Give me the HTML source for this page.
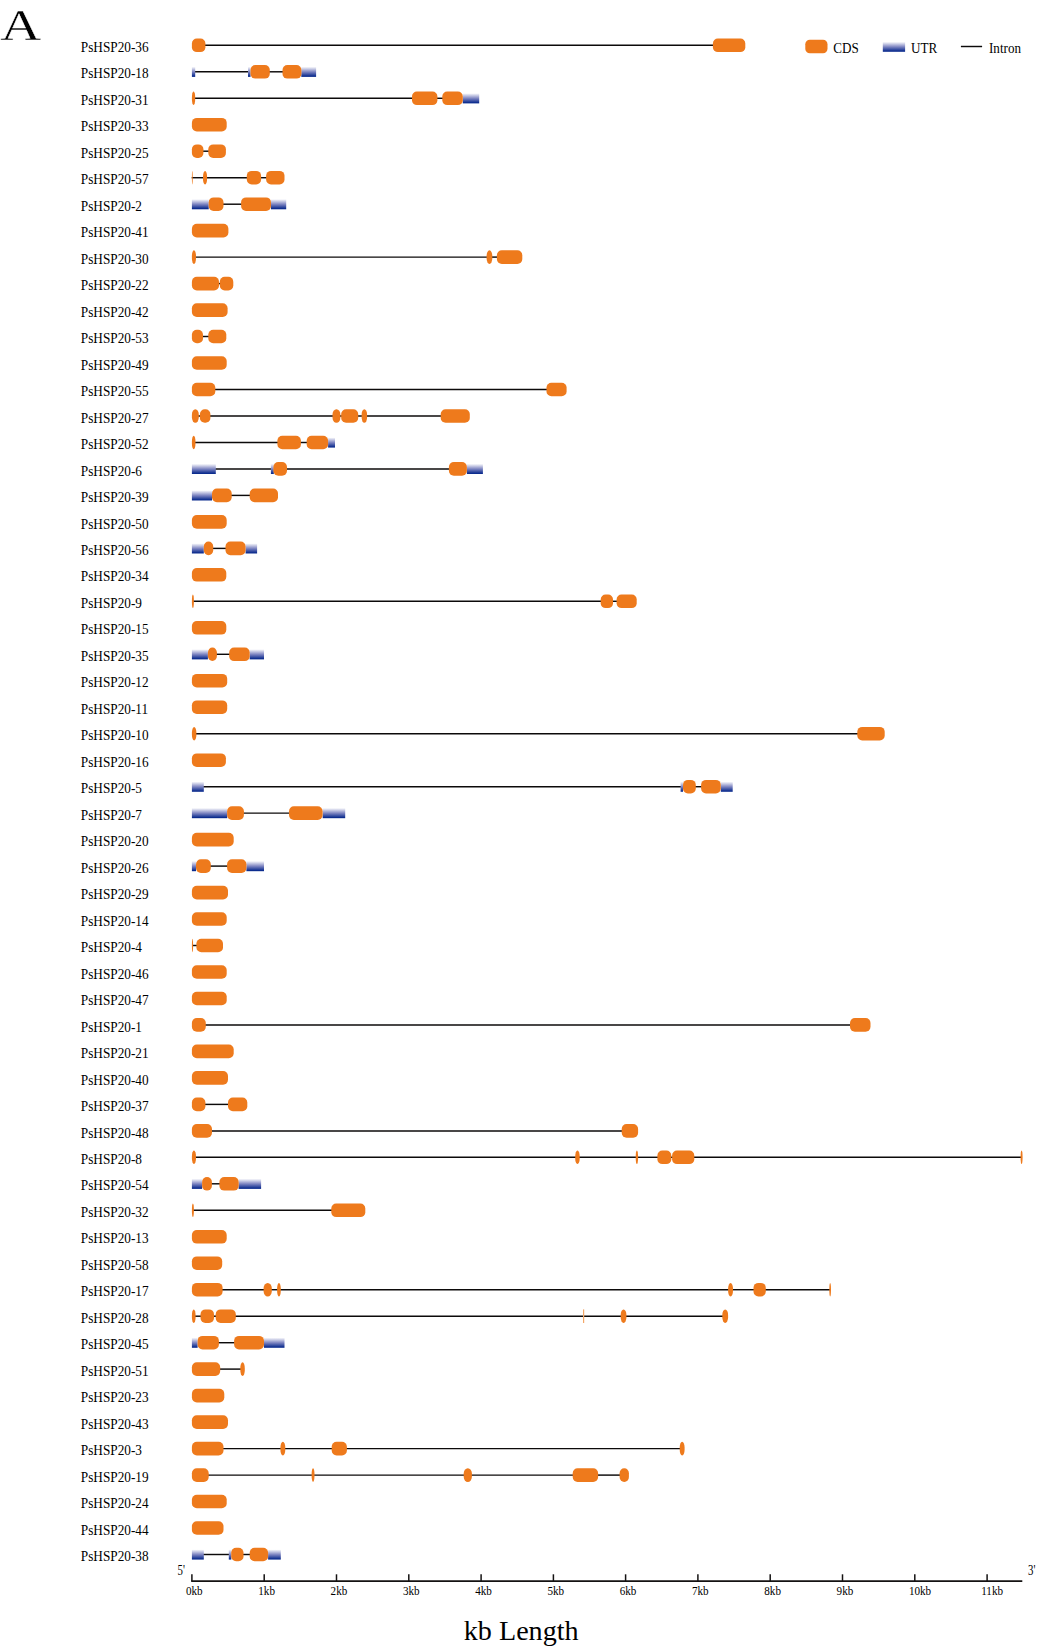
<!DOCTYPE html>
<html><head><meta charset="utf-8"><title>Gene structure</title>
<style>
html,body{margin:0;padding:0;background:#fff}
svg{display:block}
text{font-family:"Liberation Serif",serif;fill:#000}
</style></head><body>
<svg width="1049" height="1649" viewBox="0 0 1049 1649">
<defs><linearGradient id="u" x1="0" y1="0" x2="0" y2="1"><stop offset="0" stop-color="#ffffff"/><stop offset="0.5" stop-color="#7f86c2"/><stop offset="0.93" stop-color="#0c2c8e"/><stop offset="1" stop-color="#0c2c8e"/></linearGradient></defs>
<rect width="1049" height="1649" fill="#fff"/>
<text transform="translate(0.3,39.8) scale(1.29,1)" font-size="44" stroke="#fff" stroke-width="0.38">A</text>
<text transform="translate(80.8,51.9) scale(0.85,1)" font-size="15.6">PsHSP20-36</text>
<line x1="204.4" y1="45.3" x2="713.9" y2="45.3" stroke="#0c0a0a" stroke-width="1.45"/>
<rect x="191.9" y="38.5" width="13.5" height="13.6" rx="4.9" ry="4.9" fill="#ee7a1c"/>
<rect x="712.9" y="38.5" width="32.4" height="13.6" rx="4.9" ry="4.9" fill="#ee7a1c"/>
<text transform="translate(80.8,78.4) scale(0.85,1)" font-size="15.6">PsHSP20-18</text>
<line x1="194.2" y1="71.8" x2="249.0" y2="71.8" stroke="#0c0a0a" stroke-width="1.45"/>
<line x1="268.8" y1="71.8" x2="283.5" y2="71.8" stroke="#0c0a0a" stroke-width="1.45"/>
<rect x="191.9" y="66.7" width="3.3" height="10.2" fill="url(#u)"/>
<rect x="248.0" y="66.7" width="2.5" height="10.2" fill="url(#u)"/>
<rect x="301.3" y="66.7" width="14.8" height="10.2" fill="url(#u)"/>
<rect x="250.5" y="65.0" width="19.3" height="13.6" rx="4.9" ry="4.9" fill="#ee7a1c"/>
<rect x="282.5" y="65.0" width="18.9" height="13.6" rx="4.9" ry="4.9" fill="#ee7a1c"/>
<text transform="translate(80.8,104.9) scale(0.85,1)" font-size="15.6">PsHSP20-31</text>
<line x1="194.2" y1="98.3" x2="413.0" y2="98.3" stroke="#0c0a0a" stroke-width="1.45"/>
<line x1="436.4" y1="98.3" x2="443.3" y2="98.3" stroke="#0c0a0a" stroke-width="1.45"/>
<rect x="462.8" y="93.2" width="16.4" height="10.2" fill="url(#u)"/>
<rect x="191.9" y="91.5" width="3.3" height="13.6" rx="1.6" ry="6.2" fill="#ee7a1c"/>
<rect x="412.0" y="91.5" width="25.4" height="13.6" rx="4.9" ry="4.9" fill="#ee7a1c"/>
<rect x="442.3" y="91.5" width="20.5" height="13.6" rx="4.9" ry="4.9" fill="#ee7a1c"/>
<text transform="translate(80.8,131.3) scale(0.85,1)" font-size="15.6">PsHSP20-33</text>
<rect x="191.9" y="117.9" width="34.8" height="13.6" rx="4.9" ry="4.9" fill="#ee7a1c"/>
<text transform="translate(80.8,157.8) scale(0.85,1)" font-size="15.6">PsHSP20-25</text>
<line x1="202.4" y1="151.2" x2="209.3" y2="151.2" stroke="#0c0a0a" stroke-width="1.45"/>
<rect x="191.9" y="144.4" width="11.5" height="13.6" rx="4.9" ry="4.9" fill="#ee7a1c"/>
<rect x="208.3" y="144.4" width="17.6" height="13.6" rx="4.9" ry="4.9" fill="#ee7a1c"/>
<text transform="translate(80.8,184.3) scale(0.85,1)" font-size="15.6">PsHSP20-57</text>
<line x1="191.7" y1="177.7" x2="204.0" y2="177.7" stroke="#0c0a0a" stroke-width="1.45"/>
<line x1="206.1" y1="177.7" x2="247.8" y2="177.7" stroke="#0c0a0a" stroke-width="1.45"/>
<line x1="260.2" y1="177.7" x2="267.1" y2="177.7" stroke="#0c0a0a" stroke-width="1.45"/>
<rect x="191.9" y="170.9" width="0.8" height="13.6" rx="0.4" ry="6.6" fill="#ee7a1c"/>
<rect x="203.0" y="170.9" width="4.1" height="13.6" rx="2.0" ry="6.0" fill="#ee7a1c"/>
<rect x="246.8" y="170.9" width="14.3" height="13.6" rx="4.9" ry="4.9" fill="#ee7a1c"/>
<rect x="266.1" y="170.9" width="18.4" height="13.6" rx="4.9" ry="4.9" fill="#ee7a1c"/>
<text transform="translate(80.8,210.8) scale(0.85,1)" font-size="15.6">PsHSP20-2</text>
<line x1="222.5" y1="204.2" x2="242.1" y2="204.2" stroke="#0c0a0a" stroke-width="1.45"/>
<rect x="191.9" y="199.1" width="16.8" height="10.2" fill="url(#u)"/>
<rect x="271.0" y="199.1" width="15.2" height="10.2" fill="url(#u)"/>
<rect x="208.7" y="197.4" width="14.8" height="13.6" rx="4.9" ry="4.9" fill="#ee7a1c"/>
<rect x="241.1" y="197.4" width="29.9" height="13.6" rx="4.9" ry="4.9" fill="#ee7a1c"/>
<text transform="translate(80.8,237.2) scale(0.85,1)" font-size="15.6">PsHSP20-41</text>
<rect x="191.9" y="223.8" width="36.5" height="13.6" rx="4.9" ry="4.9" fill="#ee7a1c"/>
<text transform="translate(80.8,263.7) scale(0.85,1)" font-size="15.6">PsHSP20-30</text>
<line x1="195.0" y1="257.1" x2="487.6" y2="257.1" stroke="#0c0a0a" stroke-width="1.45"/>
<line x1="491.4" y1="257.1" x2="497.9" y2="257.1" stroke="#0c0a0a" stroke-width="1.45"/>
<rect x="191.9" y="250.3" width="4.1" height="13.6" rx="2.0" ry="6.0" fill="#ee7a1c"/>
<rect x="486.6" y="250.3" width="5.7" height="13.6" rx="2.9" ry="5.7" fill="#ee7a1c"/>
<rect x="496.9" y="250.3" width="25.4" height="13.6" rx="4.9" ry="4.9" fill="#ee7a1c"/>
<text transform="translate(80.8,290.2) scale(0.85,1)" font-size="15.6">PsHSP20-22</text>
<line x1="217.9" y1="283.6" x2="220.8" y2="283.6" stroke="#0c0a0a" stroke-width="1.45"/>
<rect x="191.9" y="276.8" width="27.1" height="13.6" rx="4.9" ry="4.9" fill="#ee7a1c"/>
<rect x="219.8" y="276.8" width="13.5" height="13.6" rx="4.9" ry="4.9" fill="#ee7a1c"/>
<text transform="translate(80.8,316.7) scale(0.85,1)" font-size="15.6">PsHSP20-42</text>
<rect x="191.9" y="303.3" width="35.7" height="13.6" rx="4.9" ry="4.9" fill="#ee7a1c"/>
<text transform="translate(80.8,343.1) scale(0.85,1)" font-size="15.6">PsHSP20-53</text>
<line x1="202.0" y1="336.5" x2="209.3" y2="336.5" stroke="#0c0a0a" stroke-width="1.45"/>
<rect x="191.9" y="329.7" width="11.1" height="13.6" rx="4.9" ry="4.9" fill="#ee7a1c"/>
<rect x="208.3" y="329.7" width="18.0" height="13.6" rx="4.9" ry="4.9" fill="#ee7a1c"/>
<text transform="translate(80.8,369.6) scale(0.85,1)" font-size="15.6">PsHSP20-49</text>
<rect x="191.9" y="356.2" width="34.8" height="13.6" rx="4.9" ry="4.9" fill="#ee7a1c"/>
<text transform="translate(80.8,396.1) scale(0.85,1)" font-size="15.6">PsHSP20-55</text>
<line x1="214.3" y1="389.5" x2="547.5" y2="389.5" stroke="#0c0a0a" stroke-width="1.45"/>
<rect x="191.9" y="382.7" width="23.4" height="13.6" rx="4.9" ry="4.9" fill="#ee7a1c"/>
<rect x="546.5" y="382.7" width="20.1" height="13.6" rx="4.9" ry="4.9" fill="#ee7a1c"/>
<text transform="translate(80.8,422.6) scale(0.85,1)" font-size="15.6">PsHSP20-27</text>
<line x1="197.8" y1="416.0" x2="200.9" y2="416.0" stroke="#0c0a0a" stroke-width="1.45"/>
<line x1="209.4" y1="416.0" x2="333.5" y2="416.0" stroke="#0c0a0a" stroke-width="1.45"/>
<line x1="339.4" y1="416.0" x2="342.2" y2="416.0" stroke="#0c0a0a" stroke-width="1.45"/>
<line x1="357.2" y1="416.0" x2="362.6" y2="416.0" stroke="#0c0a0a" stroke-width="1.45"/>
<line x1="366.1" y1="416.0" x2="441.7" y2="416.0" stroke="#0c0a0a" stroke-width="1.45"/>
<rect x="191.9" y="409.2" width="6.9" height="13.6" rx="3.5" ry="5.5" fill="#ee7a1c"/>
<rect x="199.9" y="409.2" width="10.5" height="13.6" rx="4.9" ry="4.9" fill="#ee7a1c"/>
<rect x="332.5" y="409.2" width="7.9" height="13.6" rx="3.9" ry="5.3" fill="#ee7a1c"/>
<rect x="341.2" y="409.2" width="17.0" height="13.6" rx="4.9" ry="4.9" fill="#ee7a1c"/>
<rect x="361.6" y="409.2" width="5.5" height="13.6" rx="2.8" ry="5.7" fill="#ee7a1c"/>
<rect x="440.7" y="409.2" width="29.1" height="13.6" rx="4.9" ry="4.9" fill="#ee7a1c"/>
<text transform="translate(80.8,449.1) scale(0.85,1)" font-size="15.6">PsHSP20-52</text>
<line x1="194.5" y1="442.5" x2="278.4" y2="442.5" stroke="#0c0a0a" stroke-width="1.45"/>
<line x1="299.9" y1="442.5" x2="307.7" y2="442.5" stroke="#0c0a0a" stroke-width="1.45"/>
<rect x="328.1" y="437.4" width="6.9" height="10.2" fill="url(#u)"/>
<rect x="191.9" y="435.7" width="3.6" height="13.6" rx="1.8" ry="6.1" fill="#ee7a1c"/>
<rect x="277.4" y="435.7" width="23.5" height="13.6" rx="4.9" ry="4.9" fill="#ee7a1c"/>
<rect x="306.7" y="435.7" width="21.4" height="13.6" rx="4.9" ry="4.9" fill="#ee7a1c"/>
<text transform="translate(80.8,475.5) scale(0.85,1)" font-size="15.6">PsHSP20-6</text>
<line x1="214.8" y1="468.9" x2="271.9" y2="468.9" stroke="#0c0a0a" stroke-width="1.45"/>
<line x1="286.0" y1="468.9" x2="449.9" y2="468.9" stroke="#0c0a0a" stroke-width="1.45"/>
<rect x="191.9" y="463.8" width="23.9" height="10.2" fill="url(#u)"/>
<rect x="270.9" y="463.8" width="2.9" height="10.2" fill="url(#u)"/>
<rect x="466.9" y="463.8" width="16.0" height="10.2" fill="url(#u)"/>
<rect x="273.4" y="462.1" width="13.6" height="13.6" rx="4.9" ry="4.9" fill="#ee7a1c"/>
<rect x="448.9" y="462.1" width="18.0" height="13.6" rx="4.9" ry="4.9" fill="#ee7a1c"/>
<text transform="translate(80.8,502.0) scale(0.85,1)" font-size="15.6">PsHSP20-39</text>
<line x1="230.6" y1="495.4" x2="250.7" y2="495.4" stroke="#0c0a0a" stroke-width="1.45"/>
<rect x="191.9" y="490.3" width="20.1" height="10.2" fill="url(#u)"/>
<rect x="212.0" y="488.6" width="19.7" height="13.6" rx="4.9" ry="4.9" fill="#ee7a1c"/>
<rect x="249.7" y="488.6" width="28.3" height="13.6" rx="4.9" ry="4.9" fill="#ee7a1c"/>
<text transform="translate(80.8,528.5) scale(0.85,1)" font-size="15.6">PsHSP20-50</text>
<rect x="191.9" y="515.1" width="34.8" height="13.6" rx="4.9" ry="4.9" fill="#ee7a1c"/>
<text transform="translate(80.8,555.0) scale(0.85,1)" font-size="15.6">PsHSP20-56</text>
<line x1="212.2" y1="548.4" x2="226.5" y2="548.4" stroke="#0c0a0a" stroke-width="1.45"/>
<rect x="191.9" y="543.3" width="11.9" height="10.2" fill="url(#u)"/>
<rect x="245.6" y="543.3" width="11.5" height="10.2" fill="url(#u)"/>
<rect x="203.8" y="541.6" width="9.4" height="13.6" rx="4.7" ry="5.0" fill="#ee7a1c"/>
<rect x="225.5" y="541.6" width="20.1" height="13.6" rx="4.9" ry="4.9" fill="#ee7a1c"/>
<text transform="translate(80.8,581.4) scale(0.85,1)" font-size="15.6">PsHSP20-34</text>
<rect x="191.9" y="568.0" width="34.4" height="13.6" rx="4.9" ry="4.9" fill="#ee7a1c"/>
<text transform="translate(80.8,607.9) scale(0.85,1)" font-size="15.6">PsHSP20-9</text>
<line x1="192.9" y1="601.3" x2="601.7" y2="601.3" stroke="#0c0a0a" stroke-width="1.45"/>
<line x1="612.0" y1="601.3" x2="617.6" y2="601.3" stroke="#0c0a0a" stroke-width="1.45"/>
<rect x="191.9" y="594.5" width="2.0" height="13.6" rx="1.0" ry="6.4" fill="#ee7a1c"/>
<rect x="600.7" y="594.5" width="12.3" height="13.6" rx="4.9" ry="4.9" fill="#ee7a1c"/>
<rect x="616.6" y="594.5" width="20.1" height="13.6" rx="4.9" ry="4.9" fill="#ee7a1c"/>
<text transform="translate(80.8,634.4) scale(0.85,1)" font-size="15.6">PsHSP20-15</text>
<rect x="191.9" y="621.0" width="34.4" height="13.6" rx="4.9" ry="4.9" fill="#ee7a1c"/>
<text transform="translate(80.8,660.9) scale(0.85,1)" font-size="15.6">PsHSP20-35</text>
<line x1="215.9" y1="654.3" x2="230.2" y2="654.3" stroke="#0c0a0a" stroke-width="1.45"/>
<rect x="191.9" y="649.2" width="16.0" height="10.2" fill="url(#u)"/>
<rect x="249.7" y="649.2" width="14.3" height="10.2" fill="url(#u)"/>
<rect x="207.9" y="647.5" width="9.0" height="13.6" rx="4.5" ry="5.1" fill="#ee7a1c"/>
<rect x="229.2" y="647.5" width="20.5" height="13.6" rx="4.9" ry="4.9" fill="#ee7a1c"/>
<text transform="translate(80.8,687.3) scale(0.85,1)" font-size="15.6">PsHSP20-12</text>
<rect x="191.9" y="673.9" width="35.3" height="13.6" rx="4.9" ry="4.9" fill="#ee7a1c"/>
<text transform="translate(80.8,713.8) scale(0.85,1)" font-size="15.6">PsHSP20-11</text>
<rect x="191.9" y="700.4" width="35.3" height="13.6" rx="4.9" ry="4.9" fill="#ee7a1c"/>
<text transform="translate(80.8,740.3) scale(0.85,1)" font-size="15.6">PsHSP20-10</text>
<line x1="195.4" y1="733.7" x2="858.3" y2="733.7" stroke="#0c0a0a" stroke-width="1.45"/>
<rect x="191.9" y="726.9" width="4.5" height="13.6" rx="2.3" ry="5.9" fill="#ee7a1c"/>
<rect x="857.3" y="726.9" width="27.4" height="13.6" rx="4.9" ry="4.9" fill="#ee7a1c"/>
<text transform="translate(80.8,766.8) scale(0.85,1)" font-size="15.6">PsHSP20-16</text>
<rect x="191.9" y="753.4" width="34.0" height="13.6" rx="4.9" ry="4.9" fill="#ee7a1c"/>
<text transform="translate(80.8,793.3) scale(0.85,1)" font-size="15.6">PsHSP20-5</text>
<line x1="202.8" y1="786.7" x2="681.6" y2="786.7" stroke="#0c0a0a" stroke-width="1.45"/>
<line x1="694.8" y1="786.7" x2="702.1" y2="786.7" stroke="#0c0a0a" stroke-width="1.45"/>
<rect x="191.9" y="781.6" width="11.9" height="10.2" fill="url(#u)"/>
<rect x="680.6" y="781.6" width="2.4" height="10.2" fill="url(#u)"/>
<rect x="720.8" y="781.6" width="11.9" height="10.2" fill="url(#u)"/>
<rect x="683.0" y="779.9" width="12.8" height="13.6" rx="4.9" ry="4.9" fill="#ee7a1c"/>
<rect x="701.1" y="779.9" width="19.7" height="13.6" rx="4.9" ry="4.9" fill="#ee7a1c"/>
<text transform="translate(80.8,819.7) scale(0.85,1)" font-size="15.6">PsHSP20-7</text>
<line x1="242.9" y1="813.1" x2="290.0" y2="813.1" stroke="#0c0a0a" stroke-width="1.45"/>
<rect x="191.9" y="808.0" width="35.3" height="10.2" fill="url(#u)"/>
<rect x="322.7" y="808.0" width="22.5" height="10.2" fill="url(#u)"/>
<rect x="227.1" y="806.3" width="16.8" height="13.6" rx="4.9" ry="4.9" fill="#ee7a1c"/>
<rect x="289.0" y="806.3" width="33.6" height="13.6" rx="4.9" ry="4.9" fill="#ee7a1c"/>
<text transform="translate(80.8,846.2) scale(0.85,1)" font-size="15.6">PsHSP20-20</text>
<rect x="191.9" y="832.8" width="41.8" height="13.6" rx="4.9" ry="4.9" fill="#ee7a1c"/>
<text transform="translate(80.8,872.7) scale(0.85,1)" font-size="15.6">PsHSP20-26</text>
<line x1="209.7" y1="866.1" x2="228.1" y2="866.1" stroke="#0c0a0a" stroke-width="1.45"/>
<rect x="191.9" y="861.0" width="4.1" height="10.2" fill="url(#u)"/>
<rect x="246.4" y="861.0" width="17.6" height="10.2" fill="url(#u)"/>
<rect x="196.0" y="859.3" width="14.8" height="13.6" rx="4.9" ry="4.9" fill="#ee7a1c"/>
<rect x="227.1" y="859.3" width="19.3" height="13.6" rx="4.9" ry="4.9" fill="#ee7a1c"/>
<text transform="translate(80.8,899.2) scale(0.85,1)" font-size="15.6">PsHSP20-29</text>
<rect x="191.9" y="885.8" width="36.1" height="13.6" rx="4.9" ry="4.9" fill="#ee7a1c"/>
<text transform="translate(80.8,925.6) scale(0.85,1)" font-size="15.6">PsHSP20-14</text>
<rect x="191.9" y="912.2" width="34.8" height="13.6" rx="4.9" ry="4.9" fill="#ee7a1c"/>
<text transform="translate(80.8,952.1) scale(0.85,1)" font-size="15.6">PsHSP20-4</text>
<line x1="192.1" y1="945.5" x2="197.4" y2="945.5" stroke="#0c0a0a" stroke-width="1.45"/>
<rect x="191.9" y="938.7" width="1.2" height="13.6" rx="0.6" ry="6.6" fill="#ee7a1c"/>
<rect x="196.4" y="938.7" width="26.6" height="13.6" rx="4.9" ry="4.9" fill="#ee7a1c"/>
<text transform="translate(80.8,978.6) scale(0.85,1)" font-size="15.6">PsHSP20-46</text>
<rect x="191.9" y="965.2" width="34.8" height="13.6" rx="4.9" ry="4.9" fill="#ee7a1c"/>
<text transform="translate(80.8,1005.1) scale(0.85,1)" font-size="15.6">PsHSP20-47</text>
<rect x="191.9" y="991.7" width="34.8" height="13.6" rx="4.9" ry="4.9" fill="#ee7a1c"/>
<text transform="translate(80.8,1031.5) scale(0.85,1)" font-size="15.6">PsHSP20-1</text>
<line x1="204.8" y1="1024.9" x2="851.0" y2="1024.9" stroke="#0c0a0a" stroke-width="1.45"/>
<rect x="191.9" y="1018.1" width="13.9" height="13.6" rx="4.9" ry="4.9" fill="#ee7a1c"/>
<rect x="850.0" y="1018.1" width="20.5" height="13.6" rx="4.9" ry="4.9" fill="#ee7a1c"/>
<text transform="translate(80.8,1058.0) scale(0.85,1)" font-size="15.6">PsHSP20-21</text>
<rect x="191.9" y="1044.6" width="41.8" height="13.6" rx="4.9" ry="4.9" fill="#ee7a1c"/>
<text transform="translate(80.8,1084.5) scale(0.85,1)" font-size="15.6">PsHSP20-40</text>
<rect x="191.9" y="1071.1" width="36.1" height="13.6" rx="4.9" ry="4.9" fill="#ee7a1c"/>
<text transform="translate(80.8,1111.0) scale(0.85,1)" font-size="15.6">PsHSP20-37</text>
<line x1="204.4" y1="1104.4" x2="229.0" y2="1104.4" stroke="#0c0a0a" stroke-width="1.45"/>
<rect x="191.9" y="1097.6" width="13.5" height="13.6" rx="4.9" ry="4.9" fill="#ee7a1c"/>
<rect x="228.0" y="1097.6" width="19.3" height="13.6" rx="4.9" ry="4.9" fill="#ee7a1c"/>
<text transform="translate(80.8,1137.5) scale(0.85,1)" font-size="15.6">PsHSP20-48</text>
<line x1="211.0" y1="1130.9" x2="622.7" y2="1130.9" stroke="#0c0a0a" stroke-width="1.45"/>
<rect x="191.9" y="1124.1" width="20.1" height="13.6" rx="4.9" ry="4.9" fill="#ee7a1c"/>
<rect x="621.7" y="1124.1" width="16.4" height="13.6" rx="4.9" ry="4.9" fill="#ee7a1c"/>
<text transform="translate(80.8,1163.9) scale(0.85,1)" font-size="15.6">PsHSP20-8</text>
<line x1="195.0" y1="1157.3" x2="576.2" y2="1157.3" stroke="#0c0a0a" stroke-width="1.45"/>
<line x1="578.7" y1="1157.3" x2="636.7" y2="1157.3" stroke="#0c0a0a" stroke-width="1.45"/>
<line x1="637.1" y1="1157.3" x2="658.4" y2="1157.3" stroke="#0c0a0a" stroke-width="1.45"/>
<line x1="670.3" y1="1157.3" x2="673.1" y2="1157.3" stroke="#0c0a0a" stroke-width="1.45"/>
<line x1="693.3" y1="1157.3" x2="1021.6" y2="1157.3" stroke="#0c0a0a" stroke-width="1.45"/>
<rect x="191.9" y="1150.5" width="4.1" height="13.6" rx="2.0" ry="6.0" fill="#ee7a1c"/>
<rect x="575.2" y="1150.5" width="4.5" height="13.6" rx="2.2" ry="5.9" fill="#ee7a1c"/>
<rect x="635.7" y="1150.5" width="2.4" height="13.6" rx="1.2" ry="6.3" fill="#ee7a1c"/>
<rect x="657.4" y="1150.5" width="13.9" height="13.6" rx="4.9" ry="4.9" fill="#ee7a1c"/>
<rect x="672.1" y="1150.5" width="22.2" height="13.6" rx="4.9" ry="4.9" fill="#ee7a1c"/>
<rect x="1020.6" y="1150.5" width="2.0" height="13.6" rx="1.0" ry="6.4" fill="#ee7a1c"/>
<text transform="translate(80.8,1190.4) scale(0.85,1)" font-size="15.6">PsHSP20-54</text>
<line x1="211.0" y1="1183.8" x2="220.4" y2="1183.8" stroke="#0c0a0a" stroke-width="1.45"/>
<rect x="191.9" y="1178.7" width="10.2" height="10.2" fill="url(#u)"/>
<rect x="238.6" y="1178.7" width="22.5" height="10.2" fill="url(#u)"/>
<rect x="202.1" y="1177.0" width="9.8" height="13.6" rx="4.9" ry="4.9" fill="#ee7a1c"/>
<rect x="219.4" y="1177.0" width="19.3" height="13.6" rx="4.9" ry="4.9" fill="#ee7a1c"/>
<text transform="translate(80.8,1216.9) scale(0.85,1)" font-size="15.6">PsHSP20-32</text>
<line x1="192.9" y1="1210.3" x2="332.3" y2="1210.3" stroke="#0c0a0a" stroke-width="1.45"/>
<rect x="191.9" y="1203.5" width="2.0" height="13.6" rx="1.0" ry="6.4" fill="#ee7a1c"/>
<rect x="331.3" y="1203.5" width="34.0" height="13.6" rx="4.9" ry="4.9" fill="#ee7a1c"/>
<text transform="translate(80.8,1243.4) scale(0.85,1)" font-size="15.6">PsHSP20-13</text>
<rect x="191.9" y="1230.0" width="34.8" height="13.6" rx="4.9" ry="4.9" fill="#ee7a1c"/>
<text transform="translate(80.8,1269.8) scale(0.85,1)" font-size="15.6">PsHSP20-58</text>
<rect x="191.9" y="1256.4" width="30.3" height="13.6" rx="4.9" ry="4.9" fill="#ee7a1c"/>
<text transform="translate(80.8,1296.3) scale(0.85,1)" font-size="15.6">PsHSP20-17</text>
<line x1="221.6" y1="1289.7" x2="264.6" y2="1289.7" stroke="#0c0a0a" stroke-width="1.45"/>
<line x1="270.8" y1="1289.7" x2="278.1" y2="1289.7" stroke="#0c0a0a" stroke-width="1.45"/>
<line x1="279.8" y1="1289.7" x2="729.1" y2="1289.7" stroke="#0c0a0a" stroke-width="1.45"/>
<line x1="732.0" y1="1289.7" x2="754.5" y2="1289.7" stroke="#0c0a0a" stroke-width="1.45"/>
<line x1="764.8" y1="1289.7" x2="830.3" y2="1289.7" stroke="#0c0a0a" stroke-width="1.45"/>
<rect x="191.9" y="1282.9" width="30.7" height="13.6" rx="4.9" ry="4.9" fill="#ee7a1c"/>
<rect x="263.6" y="1282.9" width="8.2" height="13.6" rx="4.1" ry="5.2" fill="#ee7a1c"/>
<rect x="277.1" y="1282.9" width="3.7" height="13.6" rx="1.8" ry="6.1" fill="#ee7a1c"/>
<rect x="728.1" y="1282.9" width="4.9" height="13.6" rx="2.4" ry="5.9" fill="#ee7a1c"/>
<rect x="753.5" y="1282.9" width="12.3" height="13.6" rx="4.9" ry="4.9" fill="#ee7a1c"/>
<rect x="829.3" y="1282.9" width="1.7" height="13.6" rx="0.9" ry="6.5" fill="#ee7a1c"/>
<text transform="translate(80.8,1322.8) scale(0.85,1)" font-size="15.6">PsHSP20-28</text>
<line x1="194.6" y1="1316.2" x2="201.5" y2="1316.2" stroke="#0c0a0a" stroke-width="1.45"/>
<line x1="213.0" y1="1316.2" x2="216.7" y2="1316.2" stroke="#0c0a0a" stroke-width="1.45"/>
<line x1="234.7" y1="1316.2" x2="584.0" y2="1316.2" stroke="#0c0a0a" stroke-width="1.45"/>
<line x1="583.2" y1="1316.2" x2="621.7" y2="1316.2" stroke="#0c0a0a" stroke-width="1.45"/>
<line x1="625.4" y1="1316.2" x2="723.3" y2="1316.2" stroke="#0c0a0a" stroke-width="1.45"/>
<rect x="191.9" y="1309.4" width="3.7" height="13.6" rx="1.8" ry="6.1" fill="#ee7a1c"/>
<rect x="200.5" y="1309.4" width="13.5" height="13.6" rx="4.9" ry="4.9" fill="#ee7a1c"/>
<rect x="215.7" y="1309.4" width="20.1" height="13.6" rx="4.9" ry="4.9" fill="#ee7a1c"/>
<rect x="583.0" y="1309.4" width="1.2" height="13.6" fill="#f4a869"/>
<rect x="620.7" y="1309.4" width="5.7" height="13.6" rx="2.8" ry="5.7" fill="#ee7a1c"/>
<rect x="722.3" y="1309.4" width="5.8" height="13.6" rx="2.9" ry="5.7" fill="#ee7a1c"/>
<text transform="translate(80.8,1349.3) scale(0.85,1)" font-size="15.6">PsHSP20-45</text>
<line x1="217.9" y1="1342.7" x2="235.1" y2="1342.7" stroke="#0c0a0a" stroke-width="1.45"/>
<rect x="191.9" y="1337.6" width="5.7" height="10.2" fill="url(#u)"/>
<rect x="264.0" y="1337.6" width="20.5" height="10.2" fill="url(#u)"/>
<rect x="197.6" y="1335.9" width="21.3" height="13.6" rx="4.9" ry="4.9" fill="#ee7a1c"/>
<rect x="234.1" y="1335.9" width="29.9" height="13.6" rx="4.9" ry="4.9" fill="#ee7a1c"/>
<text transform="translate(80.8,1375.7) scale(0.85,1)" font-size="15.6">PsHSP20-51</text>
<line x1="219.2" y1="1369.1" x2="241.3" y2="1369.1" stroke="#0c0a0a" stroke-width="1.45"/>
<rect x="191.9" y="1362.3" width="28.3" height="13.6" rx="4.9" ry="4.9" fill="#ee7a1c"/>
<rect x="240.3" y="1362.3" width="4.5" height="13.6" rx="2.3" ry="5.9" fill="#ee7a1c"/>
<text transform="translate(80.8,1402.2) scale(0.85,1)" font-size="15.6">PsHSP20-23</text>
<rect x="191.9" y="1388.8" width="32.4" height="13.6" rx="4.9" ry="4.9" fill="#ee7a1c"/>
<text transform="translate(80.8,1428.7) scale(0.85,1)" font-size="15.6">PsHSP20-43</text>
<rect x="191.9" y="1415.3" width="36.1" height="13.6" rx="4.9" ry="4.9" fill="#ee7a1c"/>
<text transform="translate(80.8,1455.2) scale(0.85,1)" font-size="15.6">PsHSP20-3</text>
<line x1="222.5" y1="1448.6" x2="281.4" y2="1448.6" stroke="#0c0a0a" stroke-width="1.45"/>
<line x1="284.3" y1="1448.6" x2="332.7" y2="1448.6" stroke="#0c0a0a" stroke-width="1.45"/>
<line x1="345.8" y1="1448.6" x2="680.7" y2="1448.6" stroke="#0c0a0a" stroke-width="1.45"/>
<rect x="191.9" y="1441.8" width="31.6" height="13.6" rx="4.9" ry="4.9" fill="#ee7a1c"/>
<rect x="280.4" y="1441.8" width="4.9" height="13.6" rx="2.5" ry="5.8" fill="#ee7a1c"/>
<rect x="331.7" y="1441.8" width="15.2" height="13.6" rx="4.9" ry="4.9" fill="#ee7a1c"/>
<rect x="679.7" y="1441.8" width="4.9" height="13.6" rx="2.4" ry="5.9" fill="#ee7a1c"/>
<text transform="translate(80.8,1481.7) scale(0.85,1)" font-size="15.6">PsHSP20-19</text>
<line x1="207.7" y1="1475.1" x2="312.6" y2="1475.1" stroke="#0c0a0a" stroke-width="1.45"/>
<line x1="313.5" y1="1475.1" x2="464.7" y2="1475.1" stroke="#0c0a0a" stroke-width="1.45"/>
<line x1="470.9" y1="1475.1" x2="573.7" y2="1475.1" stroke="#0c0a0a" stroke-width="1.45"/>
<line x1="597.1" y1="1475.1" x2="620.6" y2="1475.1" stroke="#0c0a0a" stroke-width="1.45"/>
<rect x="191.9" y="1468.3" width="16.8" height="13.6" rx="4.9" ry="4.9" fill="#ee7a1c"/>
<rect x="311.6" y="1468.3" width="2.9" height="13.6" rx="1.4" ry="6.2" fill="#ee7a1c"/>
<rect x="463.7" y="1468.3" width="8.2" height="13.6" rx="4.1" ry="5.2" fill="#ee7a1c"/>
<rect x="572.7" y="1468.3" width="25.4" height="13.6" rx="4.9" ry="4.9" fill="#ee7a1c"/>
<rect x="619.6" y="1468.3" width="9.3" height="13.6" rx="4.6" ry="5.0" fill="#ee7a1c"/>
<text transform="translate(80.8,1508.1) scale(0.85,1)" font-size="15.6">PsHSP20-24</text>
<rect x="191.9" y="1494.7" width="34.8" height="13.6" rx="4.9" ry="4.9" fill="#ee7a1c"/>
<text transform="translate(80.8,1534.6) scale(0.85,1)" font-size="15.6">PsHSP20-44</text>
<rect x="191.9" y="1521.2" width="31.6" height="13.6" rx="4.9" ry="4.9" fill="#ee7a1c"/>
<text transform="translate(80.8,1561.1) scale(0.85,1)" font-size="15.6">PsHSP20-38</text>
<line x1="202.8" y1="1554.5" x2="229.8" y2="1554.5" stroke="#0c0a0a" stroke-width="1.45"/>
<line x1="242.5" y1="1554.5" x2="250.7" y2="1554.5" stroke="#0c0a0a" stroke-width="1.45"/>
<rect x="191.9" y="1549.4" width="11.9" height="10.2" fill="url(#u)"/>
<rect x="228.8" y="1549.4" width="2.5" height="10.2" fill="url(#u)"/>
<rect x="268.1" y="1549.4" width="12.7" height="10.2" fill="url(#u)"/>
<rect x="231.2" y="1547.7" width="12.3" height="13.6" rx="4.9" ry="4.9" fill="#ee7a1c"/>
<rect x="249.7" y="1547.7" width="18.4" height="13.6" rx="4.9" ry="4.9" fill="#ee7a1c"/>
<rect x="805.3" y="39.8" width="22.2" height="13.4" rx="4.5" fill="#ee7a1c"/>
<text transform="translate(833.2,52.9) scale(0.84,1)" font-size="15.6">CDS</text>
<rect x="882.8" y="41.8" width="22.3" height="10" fill="url(#u)"/>
<text transform="translate(911,52.9) scale(0.84,1)" font-size="15.6">UTR</text>
<line x1="960.9" y1="46.5" x2="982.1" y2="46.5" stroke="#0c0a0a" stroke-width="1.45"/>
<text transform="translate(989,52.9) scale(0.84,1)" font-size="15.6">Intron</text>
<line x1="191.20000000000002" y1="1581.2" x2="1022.3" y2="1581.2" stroke="#141212" stroke-width="1.7"/>
<line x1="191.9" y1="1581.2" x2="191.9" y2="1574.3" stroke="#141212" stroke-width="1.5"/>
<text transform="translate(186.0,1594.9) scale(0.85,1)" font-size="13.1">0kb</text>
<line x1="264.2" y1="1581.2" x2="264.2" y2="1574.3" stroke="#141212" stroke-width="1.5"/>
<text transform="translate(258.3,1594.9) scale(0.85,1)" font-size="13.1">1kb</text>
<line x1="336.5" y1="1581.2" x2="336.5" y2="1574.3" stroke="#141212" stroke-width="1.5"/>
<text transform="translate(330.6,1594.9) scale(0.85,1)" font-size="13.1">2kb</text>
<line x1="408.8" y1="1581.2" x2="408.8" y2="1574.3" stroke="#141212" stroke-width="1.5"/>
<text transform="translate(402.9,1594.9) scale(0.85,1)" font-size="13.1">3kb</text>
<line x1="481.1" y1="1581.2" x2="481.1" y2="1574.3" stroke="#141212" stroke-width="1.5"/>
<text transform="translate(475.2,1594.9) scale(0.85,1)" font-size="13.1">4kb</text>
<line x1="553.4" y1="1581.2" x2="553.4" y2="1574.3" stroke="#141212" stroke-width="1.5"/>
<text transform="translate(547.5,1594.9) scale(0.85,1)" font-size="13.1">5kb</text>
<line x1="625.6" y1="1581.2" x2="625.6" y2="1574.3" stroke="#141212" stroke-width="1.5"/>
<text transform="translate(619.7,1594.9) scale(0.85,1)" font-size="13.1">6kb</text>
<line x1="697.9" y1="1581.2" x2="697.9" y2="1574.3" stroke="#141212" stroke-width="1.5"/>
<text transform="translate(692.0,1594.9) scale(0.85,1)" font-size="13.1">7kb</text>
<line x1="770.2" y1="1581.2" x2="770.2" y2="1574.3" stroke="#141212" stroke-width="1.5"/>
<text transform="translate(764.3,1594.9) scale(0.85,1)" font-size="13.1">8kb</text>
<line x1="842.5" y1="1581.2" x2="842.5" y2="1574.3" stroke="#141212" stroke-width="1.5"/>
<text transform="translate(836.6,1594.9) scale(0.85,1)" font-size="13.1">9kb</text>
<line x1="914.8" y1="1581.2" x2="914.8" y2="1574.3" stroke="#141212" stroke-width="1.5"/>
<text transform="translate(908.9,1594.9) scale(0.85,1)" font-size="13.1">10kb</text>
<line x1="987.1" y1="1581.2" x2="987.1" y2="1574.3" stroke="#141212" stroke-width="1.5"/>
<text transform="translate(981.2,1594.9) scale(0.85,1)" font-size="13.1">11kb</text>
<text transform="translate(177.5,1574.6) scale(0.73,1)" font-size="14.8">5'</text>
<text transform="translate(1028,1574.6) scale(0.73,1)" font-size="14.8">3'</text>
<text transform="translate(463.8,1639.8) scale(1.012,1)" font-size="27.8">kb Length</text>
</svg></body></html>
